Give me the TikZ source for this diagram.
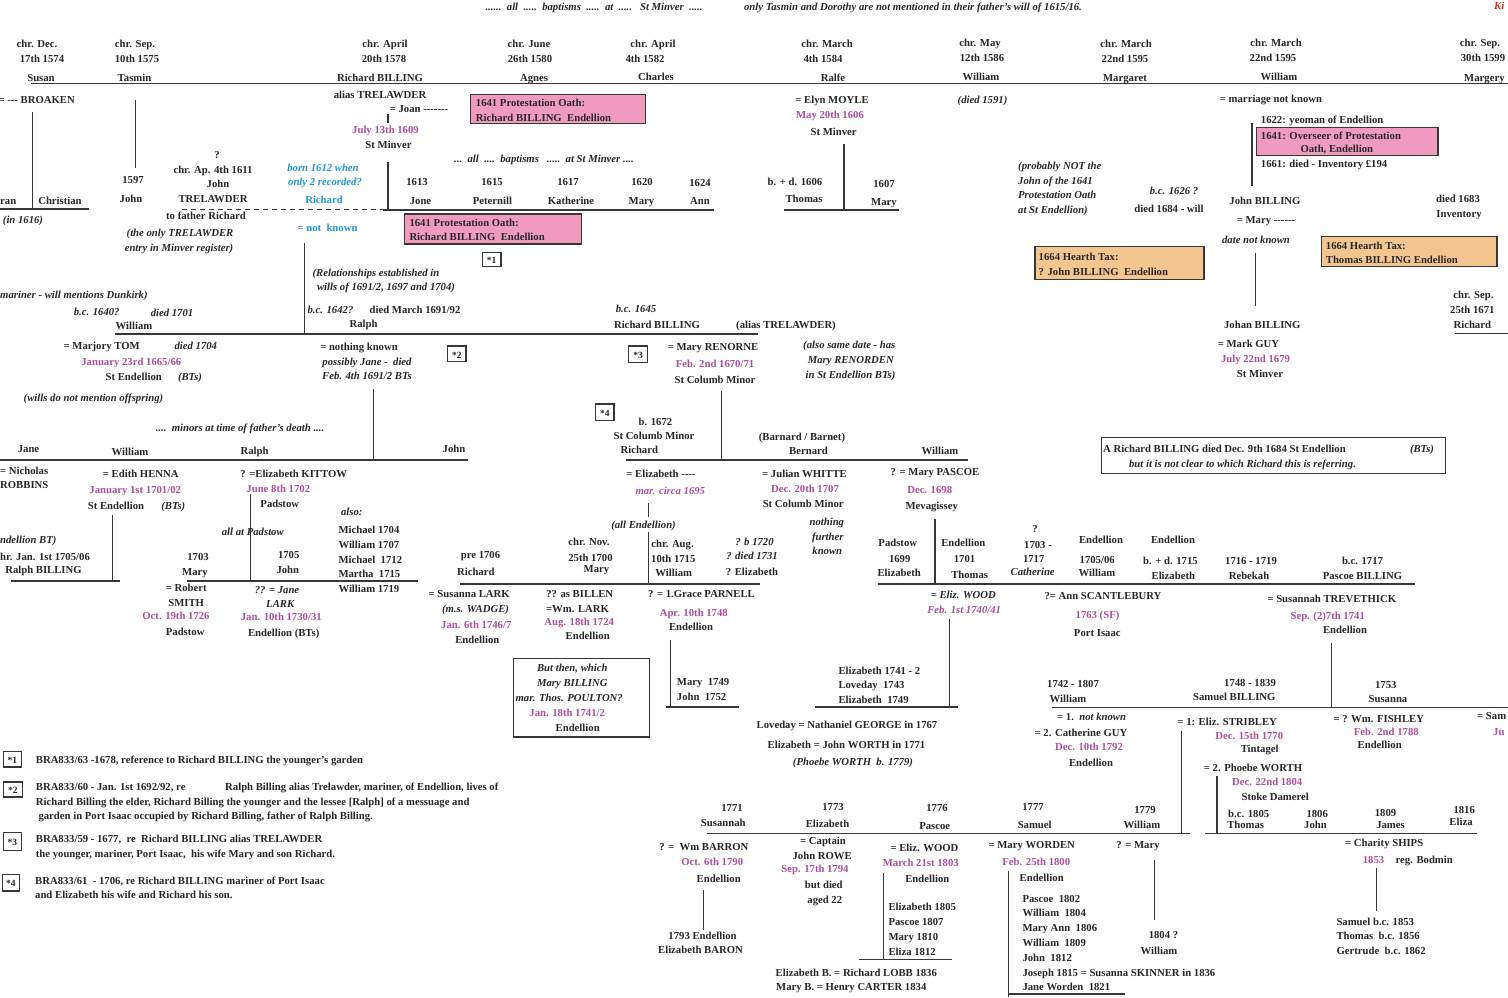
\documentclass[tikz,border=0pt]{standalone}
\usepackage{fontspec}
\setmainfont{Liberation Serif}[Ligatures=TeXOff]
\definecolor{ink}{RGB}{40,40,40}
\definecolor{mag}{RGB}{176,78,158}
\definecolor{blu}{RGB}{30,150,225}
\definecolor{lin}{RGB}{55,55,55}
\definecolor{pinkf}{RGB}{240,155,190}
\definecolor{orgf}{RGB}{245,197,143}
\definecolor{redt}{RGB}{220,40,30}
\newcounter{nodecnt}
\newcounter{lncnt}
\newcommand\fs{\fontsize{10.7}{12}\selectfont}
\newcommand\TXT[4][]{\stepcounter{nodecnt}\node[tx,#1] (n\arabic{nodecnt}) at (#2,#3) {#4};}
\newcommand\LN[5][hl]{\stepcounter{lncnt}\coordinate (a\arabic{lncnt}) at (#2,#3);\coordinate (b\arabic{lncnt}) at (#4,#5);\draw[#1] (a\arabic{lncnt}) -- (b\arabic{lncnt});}
\tikzset{
 tx/.style={anchor=base,inner sep=0pt,font=\bfseries\fs,text=ink},
 lt/.style={anchor=base west},
 rt/.style={anchor=base east},
 itl/.style={font=\bfseries\itshape\fs},
 mg/.style={text=mag},
 bl/.style={text=blu},
 sm/.style={font=\bfseries\fontsize{9.5}{11}\selectfont},
 hl/.style={draw=lin,line width=1.4pt},
 vl/.style={draw=lin,line width=1.1pt},
 dl/.style={draw=lin,line width=1.1pt,dash pattern=on 5pt off 4pt},
 pbox/.style={draw=lin,line width=1.4pt,fill=pinkf},
 obox/.style={draw=lin,line width=1.4pt,fill=orgf},
 wbox/.style={draw=lin,line width=1.3pt,fill=white},
}
\begin{document}
\begin{tikzpicture}[x=1pt,y=-1pt]
\useasboundingbox (0,0) rectangle (1508,997);
\clip (0,0) rectangle (1508,997);
\fill[white] (0,0) rectangle (1508,997);
% ---------- boxes
\draw[pbox] (470.7,94.3) rectangle (645.3,123.3);
\draw[pbox] (404.3,214) rectangle (581.7,244);
\draw[pbox] (1256.3,127.7) rectangle (1438,155.7);
\draw[obox] (1035,246.7) rectangle (1204,279.3);
\draw[obox] (1321.3,236.7) rectangle (1497,266.7);
\draw[wbox] (1101.7,437.7) rectangle (1445.3,473.3);
\draw[wbox] (513.3,658.3) rectangle (649.3,737);
\draw[wbox] (482.3,252.3) rectangle (501,266.7);
\draw[wbox] (447.7,346) rectangle (466,361.7);
\draw[wbox] (628.3,346) rectangle (647.7,362.3);
\draw[wbox] (595.7,404) rectangle (614,420.7);
\draw[wbox] (3.3,751.3) rectangle (21.7,767);
\draw[wbox] (3.3,782) rectangle (22.7,797);
\draw[wbox] (3.3,832.7) rectangle (21.7,850.3);
\draw[wbox] (2.3,874.3) rectangle (19.3,891);
% ---------- lines
\LN{31}{83.3}{1508}{83.3}
\LN[vl]{32.3}{112}{32.3}{209}
\LN{0}{209}{89}{209}
\LN[vl]{135.7}{100}{135.7}{168}
\LN[vl]{388}{114}{388}{123}
\LN[vl]{388}{162}{388}{209.5}
\LN[dl]{182}{209.5}{383}{209.5}
\LN{383}{210}{714}{210}
\LN[vl]{844}{144}{844}{209}
\LN{784}{210}{899}{210}
\LN[vl]{1252}{123}{1252}{186}
\LN[vl]{1255.3}{253}{1255.3}{306}
\LN[vl]{304.5}{243}{304.5}{334}
\LN{115}{334}{758}{334}
\LN{1455}{333.5}{1508}{333.5}
\LN[vl]{373.3}{389}{373.3}{460}
\LN{0}{460}{468}{460}
\LN[vl]{721.7}{391}{721.7}{460}
\LN{626}{460}{968}{460}
\LN[vl]{112.3}{515}{112.3}{581}
\LN{11}{581}{120}{581}
\LN[vl]{250.7}{494}{250.7}{581}
\LN{187}{581}{418}{581}
\LN[vl]{648.3}{503}{648.3}{517}
\LN[vl]{648.3}{532}{648.3}{585}
\LN{460}{584}{760}{584}
\LN[vl]{935}{519}{935}{584}
\LN{878}{584}{1414.5}{584}
\LN[vl]{949.3}{619}{949.3}{707}
\LN{815}{707}{958}{707}
\LN[vl]{670.7}{640}{670.7}{707}
\LN{666}{707}{739}{707}
\LN[vl]{1331.3}{643}{1331.3}{707}
\LN{1052}{707.5}{1508}{707.5}
\LN[vl]{1181.3}{731}{1181.3}{834}
\LN[vl]{1217}{776}{1217}{834}
\LN{707}{833.7}{1190}{833.7}
\LN{1205}{833.7}{1477}{833.7}
\LN[vl]{703.3}{890}{703.3}{930}
\LN[vl]{883.3}{873}{883.3}{960}
\LN{859}{959.7}{952}{959.7}
\LN[vl]{1008.3}{871}{1008.3}{997}
\LN{1008}{994}{1125}{994}
\LN[vl]{1154.7}{860}{1154.7}{920}
\LN[vl]{1376.3}{868}{1376.3}{911}
% ---------- top notes
\TXT[itl]{594}{10}{......~~all~~.....~~baptisms~~.....~~at~~.....~~~St Minver~~.....}
\TXT[itl]{913}{10}{only Tasmin and Dorothy are not mentioned in their father’s will of 1615/16.}
\TXT[itl,lt,text=redt]{1494}{9}{Ki}
% ---------- generation 1
\TXT{37}{47}{chr. Dec.} \TXT{42}{62}{17th 1574} \TXT{41}{81}{Susan}
\TXT{135}{47}{chr. Sep.} \TXT{137}{62}{10th 1575} \TXT{134.5}{81}{Tasmin}
\TXT{385}{47}{chr. April} \TXT{384}{62}{20th 1578} \TXT{380}{81}{Richard BILLING}
\TXT{529}{47}{chr. June} \TXT{530}{62}{26th 1580} \TXT{534}{81.5}{Agnes}
\TXT{653}{47}{chr. April} \TXT{645}{62}{4th 1582} \TXT{656}{80}{Charles}
\TXT{827}{47}{chr. March} \TXT{823}{62}{4th 1584} \TXT{833}{81}{Ralfe}
\TXT{980}{46}{chr. May} \TXT{982}{61}{12th 1586} \TXT{981}{80}{William}
\TXT{1126}{47}{chr. March} \TXT{1125}{62}{22nd 1595} \TXT{1125}{81}{Margaret}
\TXT{1276}{46}{chr. March} \TXT{1273}{61}{22nd 1595} \TXT{1279}{80}{William}
\TXT{1480}{46}{chr. Sep.} \TXT{1483}{61}{30th 1599} \TXT[lt]{1464}{81}{Margery}
% Susan
\TXT[rt]{75}{103}{= --- BROAKEN}
\TXT[lt]{0}{204}{ran} \TXT{60}{204}{Christian}
\TXT[itl]{23}{223}{(in 1616)}
% Tasmin
\TXT{133}{183}{1597} \TXT{131}{202}{John}
% John Trelawder
\TXT{217}{158}{?} \TXT{213}{173.5}{chr. Ap. 4th 1611} \TXT{218}{187}{John} \TXT{213}{202.5}{TRELAWDER}
\TXT{206}{219}{to father Richard}
\TXT[itl]{180}{236}{(the only TRELAWDER} \TXT[itl]{179}{251}{entry in Minver register)}
\TXT[itl,bl]{323}{171}{born 1612 when} \TXT[itl,bl]{325}{185}{only 2 recorded?}
\TXT[bl]{324}{203.5}{Richard} \TXT[bl]{327.5}{231}{= not~~known}
% Richard Billing
\TXT{380}{98}{alias TRELAWDER}
\TXT{419}{112}{= Joan -------}
\TXT[mg]{385.5}{133}{July 13th 1609}
\TXT{388.5}{148}{St Minver}
\TXT[lt]{475.7}{106.5}{1641 Protestation Oath:} \TXT[lt]{475.7}{121}{Richard BILLING~~Endellion}
\TXT[itl]{544}{162.5}{...~~all~~....~~baptisms~~~.....~~at St Minver~....}
\TXT{417}{185}{1613} \TXT{420.5}{204}{Jone}
\TXT{492}{185}{1615} \TXT{492.5}{204}{Peternill}
\TXT{568}{185}{1617} \TXT{571}{204}{Katherine}
\TXT{642}{185}{1620} \TXT{641.5}{204}{Mary}
\TXT{700}{186.5}{1624} \TXT{700}{204}{Ann}
\TXT[lt]{409.3}{226}{1641 Protestation Oath:} \TXT[lt]{409.3}{240.5}{Richard BILLING~~Endellion}
\TXT[sm]{491.7}{263}{*1}
% Ralfe
\TXT{832}{103}{= Elyn MOYLE} \TXT[mg]{830}{118.5}{May 20th 1606} \TXT{833.7}{135}{St Minver}
\TXT{795}{185}{b. + d. 1606} \TXT{804}{202}{Thomas} \TXT{884}{187.5}{1607} \TXT{884}{205}{Mary}
\TXT[itl]{982.5}{103}{(died 1591)}
\TXT[itl,lt]{1018}{169}{(probably NOT the} \TXT[itl,lt]{1018}{184.5}{John of the 1641}
\TXT[itl,lt]{1018}{198}{Protestation Oath} \TXT[itl,lt]{1018}{213}{at St Endellion)}
\TXT[lt]{1038.5}{260}{1664 Hearth Tax:} \TXT[lt]{1038.5}{275}{? John BILLING~~Endellion}
% William 1595
\TXT{1271}{102}{= marriage not known}
\TXT[lt]{1260.7}{123}{1622: yeoman of Endellion}
\TXT[lt]{1260.7}{139}{1641: Overseer of Protestation} \TXT[lt]{1300.3}{152.5}{Oath, Endellion}
\TXT[lt]{1260.7}{167}{1661: died - Inventory £194}
\TXT[itl]{1174}{194.5}{b.c. 1626 ?} \TXT{1169}{212}{died 1684 - will}
\TXT{1265}{204.5}{John BILLING} \TXT{1266}{223.5}{= Mary ------} \TXT[itl]{1256}{243.5}{date not known}
\TXT{1458}{202}{died 1683} \TXT{1459}{217}{Inventory}
\TXT[lt]{1325.7}{249.5}{1664 Hearth Tax:} \TXT[lt]{1325.7}{263.5}{Thomas BILLING Endellion}
\TXT{1473.5}{298.5}{chr. Sep.} \TXT{1472.3}{313.5}{25th 1671} \TXT{1472.3}{328.5}{Richard}
\TXT{1262.3}{328.5}{Johan BILLING}
\TXT{1248.5}{347.5}{= Mark GUY} \TXT[mg]{1255.5}{362}{July 22nd 1679} \TXT{1260}{377}{St Minver}
% ---------- generation 2
\TXT[itl,lt]{0}{298}{mariner - will mentions Dunkirk)}
\TXT[itl]{96.7}{315}{b.c. 1640?} \TXT[itl]{172}{316}{died 1701} \TXT{134}{329.5}{William}
\TXT[itl]{376}{276}{(Relationships established in} \TXT[itl]{386}{290}{wills of 1691/2, 1697 and 1704)}
\TXT[itl]{330.5}{313.5}{b.c. 1642?} \TXT{415}{313}{died March 1691/92} \TXT{363.5}{327.5}{Ralph}
\TXT[itl]{636}{312.7}{b.c. 1645} \TXT{657}{328.5}{Richard BILLING} \TXT{786}{328.5}{(alias TRELAWDER)}
\TXT{101.7}{349.5}{= Marjory TOM} \TXT[itl]{195.8}{349.5}{died 1704}
\TXT[mg]{131.3}{365}{January 23rd 1665/66}
\TXT{133.7}{380.5}{St Endellion} \TXT[itl]{190}{380.5}{(BTs)}
\TXT[itl]{93.5}{401}{(wills do not mention offspring)}
\TXT{359}{350}{= nothing known} \TXT[itl]{367}{365}{possibly Jane -~~died} \TXT[itl]{367}{379}{Feb. 4th 1691/2 BTs}
\TXT[sm]{456.8}{358}{*2}
\TXT[itl]{240}{431}{....~~minors at time of father’s death ....}
\TXT{28.5}{452}{Jane} \TXT{130}{455}{William} \TXT{254.5}{454}{Ralph} \TXT{454}{452.5}{John}
\TXT[sm]{638}{358}{*3}
\TXT{713}{350.5}{= Mary RENORNE} \TXT[mg]{715}{367}{Feb. 2nd 1670/71} \TXT{715}{383.5}{St Columb Minor}
\TXT[itl]{849.3}{348.5}{(also same date - has} \TXT[itl]{850.8}{363.5}{Mary RENORDEN} \TXT[itl]{850.5}{378}{in St Endellion BTs)}
\TXT[sm]{604.8}{416}{*4}
\TXT{655.5}{425}{b. 1672} \TXT{654}{439.5}{St Columb Minor} \TXT{639.3}{453.5}{Richard}
\TXT{802}{440}{(Barnard / Barnet)} \TXT{808.5}{454}{Bernard} \TXT{940}{454}{William}
\TXT[lt]{1103}{452}{A Richard BILLING died Dec. 9th 1684 St Endellion} \TXT[itl]{1422}{452}{(BTs)}
\TXT[itl]{1242.5}{467}{but it is not clear to which Richard this is referring.}
% ---------- generation 3
\TXT[lt]{0}{474}{= Nicholas} \TXT[lt]{0}{488.5}{ROBBINS}
\TXT{140.8}{477}{= Edith HENNA} \TXT[mg]{135.2}{493.5}{January 1st 1701/02}
\TXT{116}{509}{St Endellion} \TXT[itl]{173.3}{509}{(BTs)}
\TXT[itl,lt]{0}{543.5}{ndellion BT)} \TXT[lt]{0}{560}{hr. Jan. 1st 1705/06} \TXT{43.5}{573}{Ralph BILLING}
\TXT{293.7}{477}{? =Elizabeth KITTOW} \TXT[mg]{278.3}{492.5}{June 8th 1702} \TXT{279.8}{507.5}{Padstow}
\TXT[itl]{351.8}{515}{also:} \TXT[itl]{252.8}{535}{all at Padstow}
\TXT[lt]{338.3}{533}{Michael 1704} \TXT[lt]{338.3}{548}{William 1707} \TXT[lt]{338.3}{563}{Michael~~1712}
\TXT[lt]{338.3}{577}{Martha~~1715} \TXT[lt]{338.3}{592}{William 1719}
\TXT{198}{560}{1703} \TXT{195}{575}{Mary} \TXT{288.7}{558}{1705} \TXT{287.8}{573}{John}
\TXT{186.2}{591}{= Robert} \TXT{186.2}{606}{SMITH} \TXT[mg]{176}{619.5}{Oct. 19th 1726} \TXT{185.2}{635}{Padstow}
\TXT[itl]{277}{593.5}{?? = Jane} \TXT[itl]{280.2}{607.5}{LARK} \TXT[mg]{281.3}{620}{Jan. 10th 1730/31} \TXT{283.7}{636}{Endellion (BTs)}
\TXT{661}{477}{= Elizabeth ----} \TXT[itl,mg]{670.3}{494.5}{mar. circa 1695}
\TXT[itl]{643.5}{528.5}{(all Endellion)}
\TXT{480.5}{558.5}{pre 1706} \TXT{475.8}{575}{Richard}
\TXT{589}{545}{chr. Nov.} \TXT{590.5}{561}{25th 1700} \TXT{596.5}{572}{Mary}
\TXT{672.5}{547.5}{chr. Aug.} \TXT{673.3}{562}{10th 1715} \TXT{673.7}{576}{William}
\TXT[itl]{754.5}{545}{? b 1720} \TXT[itl]{752}{559.5}{? died 1731} \TXT{752}{575}{? Elizabeth}
\TXT{469.2}{597}{= Susanna LARK} \TXT[itl]{475.5}{612}{(m.s. WADGE)} \TXT[mg]{476.3}{628.5}{Jan. 6th 1746/7} \TXT{477.3}{643.5}{Endellion}
\TXT{579.7}{597}{?? as BILLEN} \TXT{577.5}{612}{=Wm. LARK} \TXT[mg]{579.2}{625}{Aug. 18th 1724} \TXT{587.7}{639.5}{Endellion}
\TXT{701.5}{597}{? = 1.Grace PARNELL} \TXT[mg]{693.8}{616}{Apr. 10th 1748} \TXT{691}{630}{Endellion}
\TXT[itl]{572.3}{671.5}{But then, which} \TXT[itl]{572.3}{686.5}{Mary BILLING} \TXT[itl]{569.2}{701.5}{mar. Thos. POULTON?}
\TXT[mg]{567.2}{716.5}{Jan. 18th 1741/2} \TXT{577.7}{731.5}{Endellion}
\TXT[lt]{676.7}{685.5}{Mary~~1749} \TXT[lt]{676.7}{700.5}{John~~1752}
\TXT{804.5}{477}{= Julian WHITTE} \TXT[mg]{805}{492}{Dec. 20th 1707} \TXT{803.2}{507}{St Columb Minor}
\TXT[itl]{826.8}{525}{nothing} \TXT[itl]{827.8}{540}{further} \TXT[itl]{827.3}{554}{known}
\TXT{935}{475}{? = Mary PASCOE} \TXT[mg]{929.7}{493}{Dec. 1698} \TXT{931.7}{509}{Mevagissey}
\TXT{897.8}{546.5}{Padstow} \TXT{899.7}{562}{1699} \TXT{899.2}{576}{Elizabeth}
\TXT{963.3}{546.5}{Endellion} \TXT{964.5}{562}{1701} \TXT{969.7}{578}{Thomas}
\TXT{1035}{532}{?} \TXT{1038}{548.5}{1703 -} \TXT{1033.7}{562.5}{1717} \TXT[itl]{1032.7}{575}{Catherine}
\TXT{1101}{543.5}{Endellion} \TXT{1097.2}{563}{1705/06} \TXT{1097}{576}{William}
\TXT{1173}{543.5}{Endellion} \TXT{1170.5}{564}{b. + d. 1715} \TXT{1173.3}{579}{Elizabeth}
\TXT{1251}{564}{1716 - 1719} \TXT{1249}{579}{Rebekah}
\TXT{1362.5}{564}{b.c. 1717} \TXT{1362.5}{579}{Pascoe BILLING}
\TXT[itl]{963.3}{598.5}{= Eliz. WOOD} \TXT[itl,mg]{964.2}{613.5}{Feb. 1st 1740/41}
\TXT{1103}{599.5}{?= Ann SCANTLEBURY} \TXT[mg]{1097.5}{618}{1763 (SF)} \TXT{1097.3}{636}{Port Isaac}
\TXT{1331.8}{602}{= Susannah TREVETHICK} \TXT[mg]{1327.7}{619}{Sep. (2)7th 1741} \TXT{1345}{633}{Endellion}
% ---------- generation 4
\TXT[lt]{838.3}{674}{Elizabeth 1741 - 2} \TXT[lt]{838.3}{688}{Loveday~~1743} \TXT[lt]{838.3}{703}{Elizabeth~~1749}
\TXT{847}{728}{Loveday = Nathaniel GEORGE in 1767} \TXT{846.5}{748}{Elizabeth = John WORTH in 1771}
\TXT[itl]{853}{765.5}{(Phoebe WORTH~~b. 1779)}
\TXT{1073}{687}{1742 - 1807} \TXT{1068}{702}{William}
\TXT[lt]{1057}{720.5}{= 1.~~\textit{not known}}
\TXT{1081}{736}{= 2. Catherine GUY} \TXT[mg]{1089}{750}{Dec. 10th 1792} \TXT{1091}{766.5}{Endellion}
\TXT{1250}{686}{1748 - 1839} \TXT{1234.3}{700.5}{Samuel BILLING}
\TXT{1385.8}{688}{1753} \TXT{1388}{702}{Susanna}
\TXT{1227.2}{725.5}{= 1: Eliz. STRIBLEY} \TXT[mg]{1249.3}{739}{Dec. 15th 1770} \TXT{1259.7}{752}{Tintagel}
\TXT{1253}{771}{= 2. Phoebe WORTH} \TXT[mg]{1267.2}{785}{Dec. 22nd 1804} \TXT{1275.2}{800.5}{Stoke Damerel}
\TXT{1378.8}{722}{= ? Wm. FISHLEY} \TXT[mg]{1386.3}{735}{Feb. 2nd 1788} \TXT{1379.7}{748}{Endellion}
\TXT[lt]{1477}{719.5}{= Sam} \TXT[lt,mg]{1493}{735.5}{Ju}
% ---------- generation 5
\TXT{732}{811}{1771} \TXT{723.3}{826.5}{Susannah}
\TXT{833}{810.5}{1773} \TXT{827.5}{827}{Elizabeth}
\TXT{937}{811}{1776} \TXT{934.7}{829.5}{Pascoe}
\TXT{1033}{810}{1777} \TXT{1034.7}{828}{Samuel}
\TXT{1145}{813}{1779} \TXT{1142}{828}{William}
\TXT{1248.7}{817}{b.c. 1805} \TXT{1245.7}{828}{Thomas}
\TXT{1317.2}{817}{1806} \TXT{1315.5}{828}{John}
\TXT{1385.5}{816}{1809} \TXT{1390.5}{828}{James}
\TXT{1464.2}{813}{1816} \TXT{1461}{825.5}{Eliza}
\TXT{703.8}{850}{? =~~Wm BARRON} \TXT[mg]{712.2}{865.5}{Oct. 6th 1790} \TXT{718.7}{882}{Endellion}
\TXT{702.5}{939}{1793 Endellion} \TXT{700.5}{953}{Elizabeth BARON}
\TXT{823}{844.5}{= Captain} \TXT{822.2}{859}{John ROWE} \TXT[mg]{815}{872}{Sep. 17th 1794}
\TXT{823.8}{888}{but died} \TXT{824.8}{903}{aged 22}
\TXT{924.5}{851}{= Eliz. WOOD} \TXT[mg]{920.8}{866}{March 21st 1803} \TXT{927.3}{882}{Endellion}
\TXT[lt]{888.3}{910}{Elizabeth 1805} \TXT[lt]{888.3}{925}{Pascoe 1807} \TXT[lt]{888.3}{940}{Mary 1810} \TXT[lt]{888.3}{955}{Eliza 1812}
\TXT{856.3}{976}{Elizabeth B. = Richard LOBB 1836} \TXT{851.3}{990.5}{Mary B. = Henry CARTER 1834}
\TXT{1031.7}{848}{= Mary WORDEN} \TXT[mg]{1036.3}{865}{Feb. 25th 1800} \TXT{1041.7}{881}{Endellion}
\TXT[lt]{1022.3}{902}{Pascoe~~1802} \TXT[lt]{1022.3}{916}{William~~1804} \TXT[lt]{1022.3}{931}{Mary Ann~~1806}
\TXT[lt]{1022.3}{946}{William~~1809} \TXT[lt]{1022.3}{961}{John~~1812}
\TXT[lt]{1022.3}{976}{Joseph 1815 = Susanna SKINNER in 1836} \TXT[lt]{1022.3}{990}{Jane Worden~~1821}
\TXT{1138}{848}{? = Mary}
\TXT{1163.5}{938}{1804 ?} \TXT{1159}{954}{William}
\TXT{1384.2}{846.5}{= Charity SHIPS} \TXT[mg]{1373.5}{863}{1853} \TXT{1424.2}{863}{reg. Bodmin}
\TXT[lt]{1336.3}{925}{Samuel b.c. 1853} \TXT[lt]{1336.3}{939.5}{Thomas~~b.c. 1856} \TXT[lt]{1336.3}{954}{Gertrude~~b.c. 1862}
% ---------- footnotes
\TXT[sm]{12.5}{763}{*1} \TXT[sm]{13}{793.5}{*2} \TXT[sm]{12.5}{845.5}{*3} \TXT[sm]{10.8}{886.5}{*4}
\TXT[lt]{35.7}{763}{BRA833/63 -1678, reference to Richard BILLING the younger’s garden}
\TXT[lt]{35.7}{790}{BRA833/60 - Jan. 1st 1692/92, re}
\TXT[lt]{225}{790}{Ralph Billing alias Trelawder, mariner, of Endellion, lives of}
\TXT[lt]{35.7}{805}{Richard Billing the elder, Richard Billing the younger and the lessee [Ralph] of a messuage and}
\TXT[lt]{38.3}{819.5}{garden in Port Isaac occupied by Richard Billing, father of Ralph Billing.}
\TXT[lt]{35.7}{842}{BRA833/59 - 1677,~~re~~Richard BILLING alias TRELAWDER}
\TXT[lt]{35.7}{857}{the younger, mariner, Port Isaac,~~his wife Mary and son Richard.}
\TXT[lt]{35}{884}{BRA833/61~~- 1706, re Richard BILLING mariner of Port Isaac}
\TXT[lt]{35}{898.5}{and Elizabeth his wife and Richard his son.}
\end{tikzpicture}
\end{document}
